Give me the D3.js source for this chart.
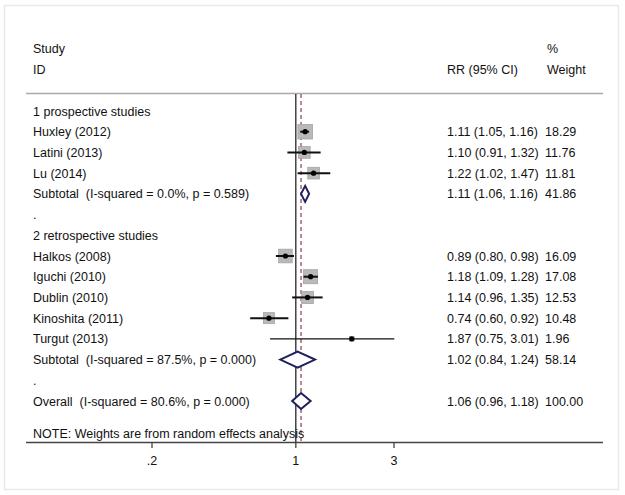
<!DOCTYPE html>
<html><head><meta charset="utf-8">
<script src="https://cdn.jsdelivr.net/npm/d3@7"></script>
<style>body{margin:0;background:#fff}svg{display:block}text{font-family:"Liberation Sans",Arial,sans-serif;font-size:12.5px;fill:#111;white-space:pre}</style>
</head><body><svg id="c" width="625" height="495"></svg>
<script>
// ---- data ----
const rowLabels = ["1 prospective studies","Huxley (2012)","Latini (2013)","Lu (2014)",
  "Subtotal  (I-squared = 0.0%, p = 0.589)",".","2 retrospective studies",
  "Halkos (2008)","Iguchi (2010)","Dublin (2010)","Kinoshita (2011)","Turgut (2013)",
  "Subtotal  (I-squared = 87.5%, p = 0.000)",".","Overall  (I-squared = 80.6%, p = 0.000)"];
const rowTypes = ["head","study","study","study","sub","blank","head","study","study","study","study","study","sub","blank","sub"];
const rr     = [null,1.11,1.10,1.22,1.11,null,null,0.89,1.18,1.14,0.74,1.87,1.02,null,1.06];
const lower  = [null,1.05,0.91,1.02,1.06,null,null,0.80,1.09,0.96,0.60,0.75,0.84,null,0.96];
const upper  = [null,1.16,1.32,1.47,1.16,null,null,0.98,1.28,1.35,0.92,3.01,1.24,null,1.18];
const weight = [null,18.29,11.76,11.81,41.86,null,null,16.09,17.08,12.53,10.48,1.96,58.14,null,100.00];
const tickValues = [0.2,1,3];
const tickLabels = [".2","1","3"];
const overallRR = 1.06;
const note = "NOTE: Weights are from random effects analysis";

// ---- drawing ----
const svg = d3.select("#c");
svg.append("rect").attr("x",4.5).attr("y",5.5).attr("width",614).attr("height",484)
  .attr("fill","#fff").attr("stroke","#e6eaea").attr("stroke-width",1.5);

const x = d3.scaleLog().domain([0.2,3]).range([152,394]);
const y = d3.scaleLinear().domain([0,14]).range([111,401]);
const f2 = d3.format(".2f");
const base = 4.5; // baseline offset from row centre

// headers
const hdr = svg.append("g");
hdr.append("text").attr("x",33).attr("y",48+base).text("Study");
hdr.append("text").attr("x",33).attr("y",69+base).text("ID");
hdr.append("text").attr("x",447).attr("y",69+base).text("RR (95% CI)");
hdr.append("text").attr("x",547).attr("y",48+base).text("%");
hdr.append("text").attr("x",547).attr("y",69+base).text("Weight");

svg.append("line").attr("x1",26).attr("x2",603).attr("y1",93.5).attr("y2",93.5)
  .attr("stroke","#a9a9a9").attr("stroke-width",1.5);

// reference lines
svg.append("line").attr("x1",x(1)).attr("x2",x(1)).attr("y1",94).attr("y2",442)
  .attr("stroke","#111").attr("stroke-width",1.2);
svg.append("line").attr("x1",x(overallRR)).attr("x2",x(overallRR)).attr("y1",94).attr("y2",442)
  .attr("stroke","#9c4a55").attr("stroke-width",1.3).attr("stroke-dasharray","4,3");

const idx = d3.range(rowLabels.length);
// left labels
svg.append("g").selectAll("text").data(idx).join("text")
  .attr("x",33).attr("y",i=>y(i)+base).text(i=>rowLabels[i]);

// right columns
const est = idx.filter(i=>rr[i]!==null);
svg.append("g").selectAll("text").data(est).join("text")
  .attr("x",447).attr("y",i=>y(i)+base)
  .text(i=>`${f2(rr[i])} (${f2(lower[i])}, ${f2(upper[i])})`);
svg.append("g").selectAll("text").data(est).join("text")
  .attr("x",545).attr("y",i=>y(i)+base).text(i=>f2(weight[i]));

// study markers
const st = idx.filter(i=>rowTypes[i]==="study");
const side = w => 3.4*Math.sqrt(w);
const g = svg.append("g");
g.selectAll("rect").data(st).join("rect")
  .attr("x",i=>x(rr[i])-side(weight[i])/2).attr("y",i=>y(i)-side(weight[i])/2)
  .attr("width",i=>side(weight[i])).attr("height",i=>side(weight[i]))
  .attr("fill","#b9b9b9").attr("stroke","#a5a5a5").attr("stroke-width",0.8);
g.selectAll("line").data(st).join("line")
  .attr("x1",i=>x(lower[i])).attr("x2",i=>x(upper[i]))
  .attr("y1",i=>y(i)).attr("y2",i=>y(i))
  .attr("stroke","#111").attr("stroke-width",i=>weight[i]<5?1.3:2);
g.selectAll("circle").data(st).join("circle")
  .attr("cx",i=>x(rr[i])).attr("cy",i=>y(i)).attr("r",2.6).attr("fill","#000");

// diamonds
const sb = idx.filter(i=>rowTypes[i]==="sub");
svg.append("g").selectAll("path").data(sb).join("path")
  .attr("d",i=>{const c=y(i),h=8;return `M${x(lower[i])},${c}L${x(rr[i])},${c-h}L${x(upper[i])},${c}L${x(rr[i])},${c+h}Z`;})
  .attr("fill","#fff").attr("stroke","#1e1f5c").attr("stroke-width",2);

// note
svg.append("text").attr("x",33).attr("y",433+base).text(note);

// axis
svg.append("line").attr("x1",26).attr("x2",603).attr("y1",442.5).attr("y2",442.5)
  .attr("stroke","#444").attr("stroke-width",1.5);
const ax = svg.append("g").selectAll("g").data(tickValues).join("g");
ax.append("line").attr("x1",d=>x(d)).attr("x2",d=>x(d)).attr("y1",442).attr("y2",448)
  .attr("stroke","#444").attr("stroke-width",1.3);
ax.append("text").attr("x",d=>x(d)).attr("y",460+base).attr("text-anchor","middle")
  .text((d,i)=>tickLabels[i]);
</script></body></html>
